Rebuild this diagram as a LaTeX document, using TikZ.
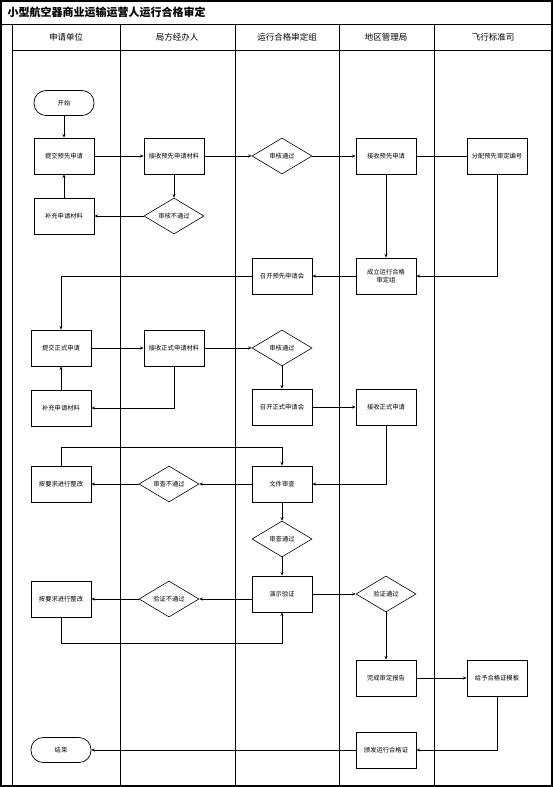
\documentclass[tikz,border=0pt]{standalone}
\usepackage{fontspec}
\setmainfont{Noto Sans CJK SC}
\usepackage{tikz}
\usetikzlibrary{shapes.geometric, arrows, arrows.meta, positioning}
\tikzstyle{process} = [rectangle, 
minimum width=60pt, 
minimum height=36pt, text centered, 
draw=black, line width=0.9pt, inner sep=1pt,
font=\fontsize{6.3}{7.5}\selectfont]
\tikzstyle{decision} = [diamond, aspect=1.67,
minimum width=60pt, 
minimum height=36pt, text centered, 
draw=black, line width=0.6pt, inner sep=0pt,
font=\fontsize{6.3}{7.5}\selectfont]
\tikzstyle{terminal} = [rectangle, rounded corners=12pt,
minimum width=60pt, 
minimum height=25pt, text centered, 
draw=black, line width=0.7pt,
font=\fontsize{6.3}{7.5}\selectfont]
\tikzstyle{lane} = [font=\fontsize{8.5}{10}\selectfont]
\tikzstyle{arrow} = [line width=0.6pt,->,>={Stealth[length=3.5pt,width=3pt]}]

\begin{document}
\begin{tikzpicture}[x=1pt, y=-1pt]
        \useasboundingbox (0,0) rectangle (553,787);
        % frame and lanes
        \draw[line width=1.2pt] (1,1) rectangle (552,786);
        \draw[line width=0.9pt] (1,24) -- (552,24);
        \draw[line width=0.9pt] (12,24) -- (12,786);
        \draw[line width=0.9pt] (12,50) -- (552,50);
        \foreach \lx in {120,235,339,434}
            \draw[line width=0.9pt] (\lx,24) -- (\lx,786);
        \node[anchor=west, font=\fontsize{11}{13}\selectfont\bfseries] (title) at (4,12) {小型航空器商业运输运营人运行合格审定};
        \node[lane] (h1) at (66,37) {申请单位};
        \node[lane] (h2) at (177,37) {局方经办人};
        \node[lane] (h3) at (287,37) {运行合格审定组};
        \node[lane] (h4) at (386,37) {地区管理局};
        \node[lane] (h5) at (493,37) {飞行标准司};

        % stage 1: pre-application
        \node[terminal] (start) at (64,103) {开始};
        \node[process] (sub1) at (64,156) {提交预先申请};
        \node[process] (supp1) at (64,216) {补充申请材料};
        \node[process] (recv1) at (174,156) {接收预先申请材料};
        \node[decision] (fail1) at (174,216) {审核不通过};
        \node[decision] (pass1) at (282,156) {审核通过};
        \node[process] (meet1) at (282,276) {召开预先申请会};
        \node[process] (accp1) at (386,156) {接收预先申请};
        \node[process, align=center] (found) at (386,276) {成立运行合格\\审定组};
        \node[process] (assign) at (497,156) {分配预先审定编号};

        \draw[arrow] (start) -- (sub1);
        \draw[arrow] (sub1) -- (recv1);
        \draw[arrow] (recv1) -- (fail1);
        \draw[arrow] (fail1) -- (supp1);
        \draw[arrow] (supp1) -- (sub1);
        \draw[arrow] (recv1) -- (pass1);
        \draw[arrow] (pass1) -- (accp1);
        \draw[line width=0.6pt] (accp1) -- (assign);
        \draw[arrow] (accp1) -- (found);
        \draw[arrow] (assign) |- (found);
        \draw[arrow] (found) -- (meet1);

        % stage 2: formal application
        \node[process] (sub2) at (61,348) {提交正式申请};
        \node[process] (supp2) at (61,408) {补充申请材料};
        \node[process] (recv2) at (174,348) {接收正式申请材料};
        \node[decision] (pass2) at (282,348) {审核通过};
        \node[process] (meet2) at (282,407) {召开正式申请会};
        \node[process] (accp2) at (386,407) {接收正式申请};

        \draw[arrow] (meet1) -| (sub2);
        \draw[arrow] (sub2) -- (recv2);
        \draw[arrow] (recv2) -- (pass2);
        \draw[arrow] (recv2) |- (supp2);
        \draw[arrow] (supp2) -- (sub2);
        \draw[arrow] (pass2) -- (meet2);
        \draw[arrow] (meet2) -- (accp2);

        % stage 3: document review and demonstration
        \node[process] (fix1) at (61,484) {按要求进行整改};
        \node[decision] (fail3) at (169,484) {审查不通过};
        \node[process] (docrev) at (282,484) {文件审查};
        \node[decision] (pass3) at (282,539) {审查通过};
        \node[process] (demo) at (282,594) {演示验证};
        \node[decision] (fail4) at (169,599) {验证不通过};
        \node[process] (fix2) at (61,599) {按要求进行整改};
        \node[decision] (pass4) at (386,594) {验证通过};

        \draw[arrow] (accp2) |- (docrev);
        \draw[arrow] (docrev) -- (fail3);
        \draw[arrow] (fail3) -- (fix1);
        \draw[arrow] (fix1.north) -- ++(0,-18) -| (docrev.north);
        \draw[arrow] (docrev) -- (pass3);
        \draw[arrow] (pass3) -- (demo);
        \draw[arrow] (demo.west |- fail4) -- (fail4);
        \draw[arrow] (fail4) -- (fix2);
        \draw[arrow] (fix2.south) -- ++(0,26) -| (demo.south);
        \draw[arrow] (demo) -- (pass4);

        % stage 4: certificate
        \node[process] (report) at (386,678) {完成审定报告};
        \node[process] (tmpl) at (497,678) {给予合格证模板};
        \node[process] (issue) at (386,750) {颁发运行合格证};
        \node[terminal] (stop) at (61,750) {结束};

        \draw[arrow] (pass4) -- (report);
        \draw[arrow] (report) -- (tmpl);
        \draw[arrow] (tmpl) |- (issue);
        \draw[arrow] (issue) -- (stop);
    \end{tikzpicture}
\end{document}
